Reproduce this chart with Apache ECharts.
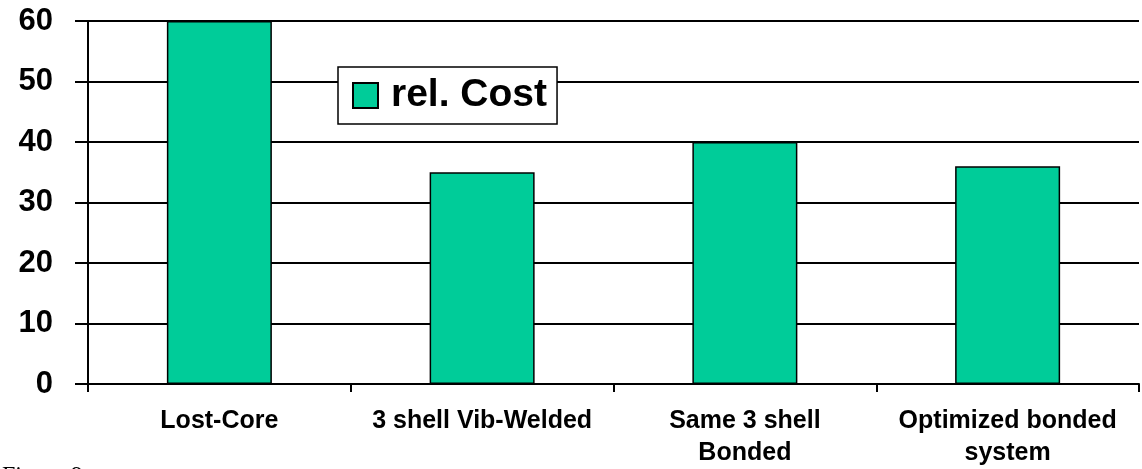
<!DOCTYPE html>
<html>
<head>
<meta charset="utf-8">
<script src="https://cdn.jsdelivr.net/npm/echarts@6/dist/echarts.min.js"></script>
<style>
html,body{margin:0;padding:0;background:#fff;}
#chart{width:1142px;height:469px;}
</style>
</head>
<body>
<div id="chart"></div>
<script>
var categories = ['Lost-Core', '3 shell Vib-Welded', 'Same 3 shell\nBonded', 'Optimized bonded\nsystem'];
var relCost = [60, 35, 40, 36];
var seriesName = 'rel. Cost';
var yMin = 0, yMax = 60, yInterval = 10;
var footText = 'Figure 9';

var chart = echarts.init(document.getElementById('chart'), null, {renderer: 'canvas'});
var font = '"Liberation Sans", Arial, sans-serif';
chart.setOption({
  animation: false,
  backgroundColor: '#ffffff',
  grid: {left: 88, right: 3, top: 21, bottom: 85, containLabel: false},
  legend: {
    data: [seriesName],
    left: 338, top: 67,
    padding: [8, 10, 8, 14],
    itemWidth: 25, itemHeight: 25,
    backgroundColor: '#ffffff',
    borderColor: '#000000', borderWidth: 1.5,
    textStyle: {fontFamily: font, fontSize: 39, fontWeight: 'bold', color: '#000', lineHeight: 41, padding: [0, 0, 0, 8]},
    icon: 'rect'
  },
  xAxis: {
    type: 'category',
    data: categories,
    axisLine: {show: true, lineStyle: {color: '#000', width: 2}},
    axisTick: {show: true, length: 8, lineStyle: {color: '#000', width: 2}, alignWithLabel: false},
    axisLabel: {fontFamily: font, fontSize: 25, fontWeight: 'bold', color: '#000', lineHeight: 32, margin: 21, interval: 0},
    splitLine: {show: false}
  },
  yAxis: {
    type: 'value',
    min: yMin, max: yMax, interval: yInterval,
    axisLine: {show: true, lineStyle: {color: '#000', width: 2}},
    axisTick: {show: true, length: 13, lineStyle: {color: '#000', width: 2}},
    axisLabel: {fontFamily: font, fontSize: 31, fontWeight: 'bold', color: '#000', margin: 35},
    splitLine: {show: true, lineStyle: {color: '#000', width: 2}}
  },
  series: [{
    name: seriesName,
    type: 'bar',
    data: relCost,
    barWidth: 105,
    itemStyle: {color: '#00CC99', borderColor: '#000', borderWidth: 1.5}
  }],
  graphic: [{
    type: 'text', left: 2, top: 464,
    style: {text: footText, fontFamily: '"Liberation Serif", "Times New Roman", serif', fontSize: 24, fill: '#000'}
  }]
});
</script>
</body>
</html>
